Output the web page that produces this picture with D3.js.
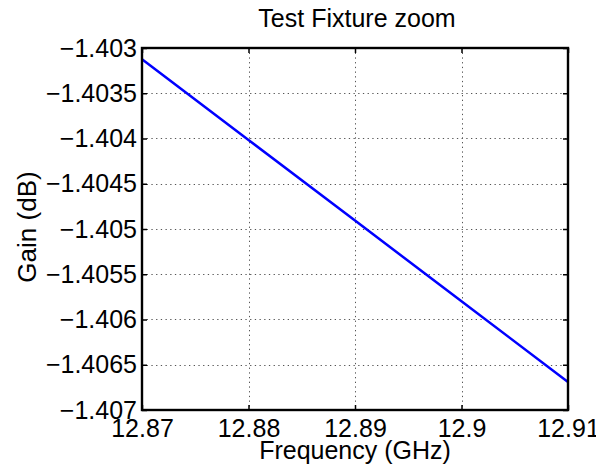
<!DOCTYPE html>
<html>
<head>
<meta charset="utf-8">
<script src="https://cdn.jsdelivr.net/npm/d3@7/dist/d3.min.js"></script>
<style>
  html, body { margin: 0; padding: 0; background: #fff; }
  svg { display: block; }
  text { font-family: "Liberation Sans", Arial, Helvetica, sans-serif; fill: #000; }
</style>
</head>
<body>
<svg id="chart" width="596" height="467"></svg>
<script>
// Gain across the frequency sweep (GHz, dB)
const frequency = [12.87, 12.88, 12.89, 12.90, 12.91];
const gain = [-1.403125, -1.404016, -1.404907, -1.405798, -1.406690];

// Axis ticks and their labels
const xTicks = [12.87, 12.88, 12.89, 12.90, 12.91];
const xTickLabels = ["12.87", "12.88", "12.89", "12.9", "12.91"];
const yTicks = [-1.403, -1.4035, -1.404, -1.4045, -1.405, -1.4055, -1.406, -1.4065, -1.407];
const yTickLabels = ["\u22121.403", "\u22121.4035", "\u22121.404", "\u22121.4045", "\u22121.405",
                     "\u22121.4055", "\u22121.406", "\u22121.4065", "\u22121.407"];

const titleText = "Test Fixture zoom";
const xLabelText = "Frequency (GHz)";
const yLabelText = "Gain (dB)";

const svg = d3.select("#chart");
const W = 596, H = 467;
const m = { left: 142, right: 28, top: 48, bottom: 57 };
const x0 = m.left, x1 = W - m.right, y0 = m.top, y1 = H - m.bottom;

const x = d3.scaleLinear().domain([12.87, 12.91]).range([x0, x1]);
const y = d3.scaleLinear().domain([-1.407, -1.403]).range([y1, y0]);

const fontSize = 25;
const tickLen = 5;

// Dotted grid
const grid = svg.append("g")
  .attr("stroke", "#555")
  .attr("stroke-width", 1)
  .attr("stroke-dasharray", "1.3,3.4");
grid.selectAll("line.gx")
  .data(xTicks.slice(1, -1))
  .join("line")
  .attr("class", "gx")
  .attr("x1", d => Math.round(x(d)) + 0.5).attr("x2", d => Math.round(x(d)) + 0.5)
  .attr("y1", y0).attr("y2", y1);
grid.selectAll("line.gy")
  .data(yTicks.slice(1, -1))
  .join("line")
  .attr("class", "gy")
  .attr("y1", d => Math.round(y(d)) + 0.5).attr("y2", d => Math.round(y(d)) + 0.5)
  .attr("x1", x0).attr("x2", x1);

// Data line
const line = d3.line()
  .x((d, i) => x(frequency[i]))
  .y(d => y(d));
svg.append("path")
  .datum(gain)
  .attr("d", line)
  .attr("fill", "none")
  .attr("stroke", "#0000ff")
  .attr("stroke-width", 2.5);

// Axes using d3 axis generators, ticks drawn inward
const axisOpts = g => g.select(".domain").remove();

const xAxisB = d3.axisBottom(x).tickValues(xTicks).tickSizeInner(-tickLen).tickSizeOuter(0)
  .tickFormat((d, i) => xTickLabels[i]).tickPadding(9);
const gxb = svg.append("g").attr("transform", `translate(0,${y1})`).call(xAxisB).call(axisOpts);
gxb.selectAll("line").attr("stroke", "#000").attr("stroke-width", 1.5);
gxb.selectAll("text")
  .attr("font-size", fontSize)
  .attr("font-family", "Liberation Sans, Arial, sans-serif")
  .attr("fill", "#000");

const xAxisT = d3.axisTop(x).tickValues(xTicks).tickSizeInner(-tickLen).tickSizeOuter(0).tickFormat("");
const gxt = svg.append("g").attr("transform", `translate(0,${y0})`).call(xAxisT).call(axisOpts);
gxt.selectAll("line").attr("stroke", "#000").attr("stroke-width", 1.5);

const yAxisL = d3.axisLeft(y).tickValues(yTicks).tickSizeInner(-tickLen).tickSizeOuter(0)
  .tickFormat((d, i) => yTickLabels[i]).tickPadding(5);
const gyl = svg.append("g").attr("transform", `translate(${x0},0)`).call(yAxisL).call(axisOpts);
gyl.selectAll("line").attr("stroke", "#000").attr("stroke-width", 1.5);
gyl.selectAll("text")
  .attr("font-size", fontSize)
  .attr("font-family", "Liberation Sans, Arial, sans-serif")
  .attr("fill", "#000");

const yAxisR = d3.axisRight(y).tickValues(yTicks).tickSizeInner(-tickLen).tickSizeOuter(0).tickFormat("");
const gyr = svg.append("g").attr("transform", `translate(${x1},0)`).call(yAxisR).call(axisOpts);
gyr.selectAll("line").attr("stroke", "#000").attr("stroke-width", 1.5);

// Axes box
svg.append("rect")
  .attr("x", x0).attr("y", y0)
  .attr("width", x1 - x0).attr("height", y1 - y0)
  .attr("fill", "none")
  .attr("stroke", "#000")
  .attr("stroke-width", 2.4);

// Title and axis labels
svg.append("text")
  .attr("x", (x0 + x1) / 2 + 2).attr("y", 27)
  .attr("text-anchor", "middle")
  .attr("font-size", fontSize)
  .text(titleText);

svg.append("text")
  .attr("x", (x0 + x1) / 2).attr("y", 459)
  .attr("text-anchor", "middle")
  .attr("font-size", fontSize)
  .text(xLabelText);

svg.append("text")
  .attr("transform", `translate(36,${(y0 + y1) / 2 - 2}) rotate(-90)`)
  .attr("text-anchor", "middle")
  .attr("font-size", fontSize + 1)
  .text(yLabelText);
</script>
</body>
</html>
